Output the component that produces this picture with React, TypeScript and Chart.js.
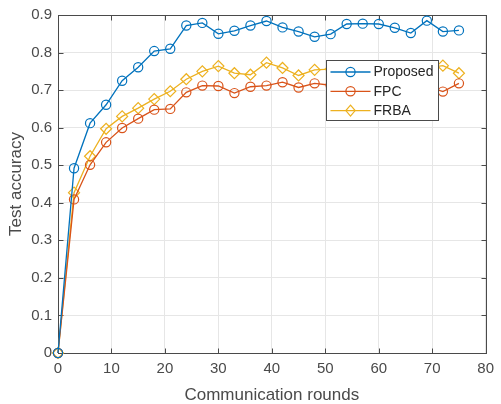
import React, { useEffect, useRef } from 'react';
import { Chart, registerables } from 'chart.js';

Chart.register(...registerables);

const rounds = [0, 3, 6, 9, 12, 15, 18, 21, 24, 27, 30, 33, 36, 39, 42, 45, 48, 51, 54, 57, 60, 63, 66, 69, 72, 75];
const proposed = [0, 0.492, 0.612, 0.661, 0.725, 0.761, 0.804, 0.810, 0.872, 0.879, 0.850, 0.858, 0.872, 0.884, 0.867, 0.856, 0.842, 0.849, 0.876, 0.877, 0.876, 0.866, 0.852, 0.885, 0.856, 0.859];
const fpc = [0, 0.409, 0.501, 0.561, 0.599, 0.624, 0.648, 0.650, 0.694, 0.712, 0.711, 0.692, 0.709, 0.712, 0.721, 0.707, 0.718, 0.713, 0.716, 0.712, 0.719, 0.710, 0.714, 0.710, 0.696, 0.718];
const frba = [0, 0.427, 0.524, 0.597, 0.630, 0.652, 0.676, 0.697, 0.729, 0.750, 0.764, 0.745, 0.741, 0.773, 0.759, 0.739, 0.754, 0.756, 0.758, 0.752, 0.760, 0.756, 0.754, 0.759, 0.765, 0.745];
const seriesLabels = ['Proposed', 'FPC', 'FRBA'];
const seriesColors = ['#0072BD', '#D95319', '#EDB120'];
const seriesMarkers = ['circle', 'circle', 'rectRot'];
const xAxisTitle = 'Communication rounds';
const yAxisTitle = 'Test accuracy';
const xRange = { min: 0, max: 80, step: 10 };
const yRange = { min: 0, max: 0.9, step: 0.1 };

const FONT = '"Liberation Sans", Arial, Helvetica, sans-serif';
const TEXT = '#4a4a4a';
const AXIS = '#4a4a4a';

function drawMarker(ctx: CanvasRenderingContext2D, style: string, x: number, y: number) {
  ctx.beginPath();
  if (style === 'rectRot') {
    const r = 5.5;
    ctx.moveTo(x, y - r);
    ctx.lineTo(x + r * 0.85, y);
    ctx.lineTo(x, y + r);
    ctx.lineTo(x - r * 0.85, y);
    ctx.closePath();
  } else {
    ctx.arc(x, y, 4.6, 0, Math.PI * 2);
  }
  ctx.stroke();
}

const framePlugin = {
  id: 'matlabFrame',
  beforeDatasetsDraw(chart: any) {
    const { ctx, chartArea } = chart;
    const l = Math.round(chartArea.left) + 0.5;
    const r = Math.round(chartArea.right) + 0.5;
    const t = Math.round(chartArea.top) + 0.5;
    const b = Math.round(chartArea.bottom) + 0.5;
    ctx.save();
    ctx.strokeStyle = AXIS;
    ctx.lineWidth = 1;
    ctx.strokeRect(l, t, r - l, b - t);
    const tl = 5;
    ctx.beginPath();
    chart.scales.x.ticks.forEach((tk: any) => {
      const px = Math.round(chart.scales.x.getPixelForValue(tk.value)) + 0.5;
      ctx.moveTo(px, b); ctx.lineTo(px, b - tl);
      ctx.moveTo(px, t); ctx.lineTo(px, t + tl);
    });
    chart.scales.y.ticks.forEach((tk: any) => {
      const py = Math.round(chart.scales.y.getPixelForValue(tk.value)) + 0.5;
      ctx.moveTo(l, py); ctx.lineTo(l + tl, py);
      ctx.moveTo(r, py); ctx.lineTo(r - tl, py);
    });
    ctx.stroke();
    ctx.restore();
  },
};

const legendPlugin = {
  id: 'boxLegend',
  afterDraw(chart: any) {
    const { ctx, chartArea } = chart;
    const bx = Math.round(chartArea.left + 268) + 0.5;
    const by = Math.round(chartArea.top + 45) + 0.5;
    const bw = 112;
    const bh = 60;
    ctx.save();
    ctx.fillStyle = '#ffffff';
    ctx.fillRect(bx, by, bw, bh);
    ctx.strokeStyle = AXIS;
    ctx.lineWidth = 1;
    ctx.strokeRect(bx, by, bw, bh);
    chart.data.datasets.forEach((ds: any, i: number) => {
      const cy = by + 11.5 + i * 19.3;
      ctx.strokeStyle = ds.borderColor;
      ctx.lineWidth = 1.3;
      ctx.beginPath();
      ctx.moveTo(bx + 4, cy);
      ctx.lineTo(bx + 44, cy);
      ctx.stroke();
      ctx.lineWidth = 1.2;
      drawMarker(ctx, ds.pointStyle, bx + 24, cy);
      ctx.fillStyle = '#262626';
      ctx.font = `14px ${FONT}`;
      ctx.textBaseline = 'middle';
      ctx.textAlign = 'left';
      ctx.fillText(ds.label, bx + 47, cy + 0.5);
    });
    ctx.restore();
  },
};

export default function App() {
  const ref = useRef<HTMLCanvasElement | null>(null);
  useEffect(() => {
    document.body.style.margin = '0';
    const series = [proposed, fpc, frba];
    const chart = new Chart(ref.current as HTMLCanvasElement, {
      type: 'line',
      data: {
        datasets: series.map((vals, i) => ({
          label: seriesLabels[i],
          data: rounds.map((r, j) => ({ x: r, y: vals[j] })),
          borderColor: seriesColors[i],
          backgroundColor: 'rgba(0,0,0,0)',
          pointBackgroundColor: 'rgba(0,0,0,0)',
          pointBorderColor: seriesColors[i],
          pointStyle: seriesMarkers[i] as any,
          pointRadius: seriesMarkers[i] === 'rectRot' ? 5.5 : 4.6,
          pointBorderWidth: 1.2,
          borderWidth: 1.3,
          tension: 0,
          clip: false as any,
        })),
      },
      plugins: [framePlugin, legendPlugin],
      options: {
        animation: false,
        responsive: false,
        devicePixelRatio: 1,
        layout: { padding: { top: 14, right: 9, left: 0, bottom: 0 } },
        plugins: { legend: { display: false }, tooltip: { enabled: false } },
        scales: {
          x: {
            type: 'linear',
            min: xRange.min,
            max: xRange.max,
            ticks: {
              stepSize: xRange.step,
              font: { size: 15, family: FONT },
              color: TEXT,
              padding: 7,
              maxRotation: 0,
            },
            grid: { color: '#e6e6e6', drawTicks: false, lineWidth: 1 },
            border: { display: false },
            title: {
              display: true,
              text: xAxisTitle,
              font: { size: 17, family: FONT, lineHeight: 1 },
              color: TEXT,
              padding: { top: 0, bottom: 0 },
            },
            afterFit: (s: any) => { s.height = 51; },
          },
          y: {
            type: 'linear',
            min: yRange.min,
            max: yRange.max,
            ticks: {
              stepSize: yRange.step,
              font: { size: 15, family: FONT },
              color: TEXT,
              padding: 6,
              callback: (v: any) => String(Number(Number(v).toFixed(1))),
            },
            grid: { color: '#e6e6e6', drawTicks: false, lineWidth: 1 },
            border: { display: false },
            title: {
              display: true,
              text: yAxisTitle,
              font: { size: 17, family: FONT, lineHeight: 1.2 },
              color: TEXT,
              padding: { top: 6, bottom: 0 },
            },
            afterFit: (s: any) => { s.width = 58; },
          },
        },
      },
    });
    return () => chart.destroy();
  }, []);
  return <canvas ref={ref} width={501} height={404} style={{ display: 'block', width: 501, height: 404 }} />;
}
